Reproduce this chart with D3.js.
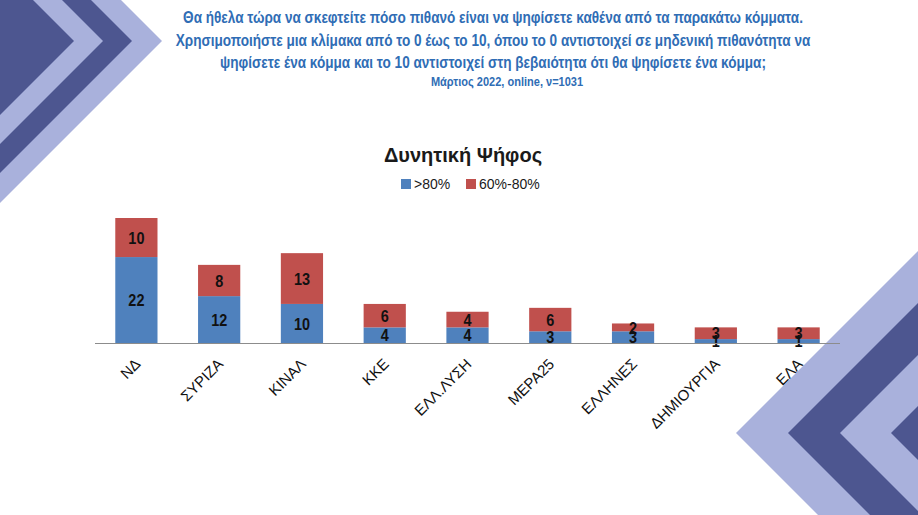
<!DOCTYPE html>
<html><head><meta charset="utf-8">
<script src="https://cdn.jsdelivr.net/npm/d3@7"></script>
<style>
html,body{margin:0;padding:0;background:#fff;}
svg{display:block;}
</style></head>
<body>
<svg id="chart" width="918" height="515"></svg>
<script>
const categories = ["ΝΔ","ΣΥΡΙΖΑ","ΚΙΝΑΛ","ΚΚΕ","ΕΛΛ.ΛΥΣΗ","ΜΕΡΑ25","ΕΛΛΗΝΕΣ","ΔΗΜΙΟΥΡΓΙΑ","ΕΛΑ"];
const seriesNames = [">80%","60%-80%"];
const above80 = [22,12,10,4,4,3,3,1,1];
const from60to80 = [10,8,13,6,4,6,2,3,3];
const titleLines = [
  "Θα ήθελα τώρα να σκεφτείτε πόσο πιθανό είναι να ψηφίσετε καθένα από τα παρακάτω κόμματα.",
  "Χρησιμοποιήστε μια κλίμακα από το 0 έως το 10, όπου το 0 αντιστοιχεί σε μηδενική πιθανότητα να",
  "ψηφίσετε ένα κόμμα και το 10 αντιστοιχεί στη βεβαιότητα ότι θα ψηφίσετε ένα κόμμα;"
];
const subtitle = "Μάρτιος 2022, online, ν=1031";
const chartTitle = "Δυνητική Ψήφος";

const svg = d3.select("#chart");
const sans = "'Liberation Sans',Arial,sans-serif";
const light = "#a9b1dc", dark = "#4d5690";

// decorations top-left
[162,132,103,74].forEach((tx,i)=>{
  svg.append("polygon")
    .attr("points",[[0,0],[tx-41,0],[tx,41],[0,41+tx]].map(p=>p.join(",")).join(" "))
    .attr("fill", i%2===0?light:dark);
});
// decorations bottom-right
[736,788,840,891].forEach((tx,i)=>{
  const ty=433;
  const pts=[[918,ty-(918-tx)],[tx,ty],[tx+(515-ty),515],[918,515]];
  svg.append("polygon").attr("points",pts.map(p=>p.join(",")).join(" "))
    .attr("fill", i%2===0?light:dark);
});

// header text: narrow look via uniform horizontal scale
const titleColor = "#2f6db5";
const tY=[23,46,68];
const hdr = titleLines.map((t,i)=>svg.append("text").attr("y",0)
    .attr("text-anchor","middle")
    .attr("font-family",sans).attr("font-weight","bold").attr("font-size",16)
    .attr("fill",titleColor).text(t));
const sx = 620 / hdr[0].node().getComputedTextLength();
hdr.forEach((h,i)=>h.attr("transform",`translate(493,${tY[i]}) scale(${sx},1)`));
svg.append("text").attr("text-anchor","middle")
  .attr("transform",`translate(507,86) scale(${sx},1)`)
  .attr("font-family",sans).attr("font-weight","bold").attr("font-size",13)
  .attr("fill",titleColor).text(subtitle);

svg.append("text").attr("x",463).attr("y",162).attr("text-anchor","middle")
  .attr("font-family",sans).attr("font-weight","bold").attr("font-size",20)
  .attr("fill","#1a1a1a").text(chartTitle);

const colors = ["#4f81bd","#c0504d"];
// legend
const legX=[401,466];
seriesNames.forEach((n,i)=>{
  svg.append("rect").attr("x",legX[i]).attr("y",179).attr("width",10).attr("height",10).attr("fill",colors[i]);
  svg.append("text").attr("x",legX[i]+13).attr("y",189).attr("font-family",sans)
    .attr("font-size",14).attr("fill","#1a1a1a").text(n);
});

// chart
const x = d3.scaleBand().domain(categories).range([95,840]).paddingInner(0.49).paddingOuter(0.245);
const y = d3.scaleLinear().domain([0,32]).range([343,218]);

const data = categories.map((c,i)=>({cat:c, a:above80[i], b:from60to80[i]}));
const stack = d3.stack().keys(["a","b"])(data);

const g = svg.append("g");
stack.forEach((layer,li)=>{
  g.selectAll(null).data(layer).enter().append("rect")
    .attr("x",d=>x(d.data.cat)).attr("width",x.bandwidth())
    .attr("y",d=>y(d[1])).attr("height",d=>y(d[0])-y(d[1]))
    .attr("fill",colors[li]);
});
stack.forEach((layer,li)=>{
  g.selectAll(null).data(layer).enter().append("text")
    .attr("transform",d=>`translate(${x(d.data.cat)+x.bandwidth()/2},${(y(d[0])+y(d[1]))/2}) scale(0.85,1)`)
    .attr("dy","0.36em")
    .attr("text-anchor","middle").attr("font-family",sans).attr("font-weight","bold")
    .attr("font-size",17).attr("fill","#111").text(d=>d[1]-d[0]);
});

const axis = d3.axisBottom(x).tickSize(0).tickFormat(()=>"");
const ax = svg.append("g").attr("transform","translate(0,343)").call(axis);
ax.select(".domain").attr("stroke","#8c8c8c").attr("stroke-width",1).attr("d","M95,0.5H840");

svg.append("g").selectAll("text").data(categories).enter().append("text")
  .attr("x",d=>x(d)+x.bandwidth()/2+5).attr("y",365)
  .attr("transform",d=>`rotate(-45,${x(d)+x.bandwidth()/2+5},365)`)
  .attr("text-anchor","end")
  .attr("font-family",sans).attr("font-size",15).attr("fill","#111").text(d=>d);
</script>
</body></html>
